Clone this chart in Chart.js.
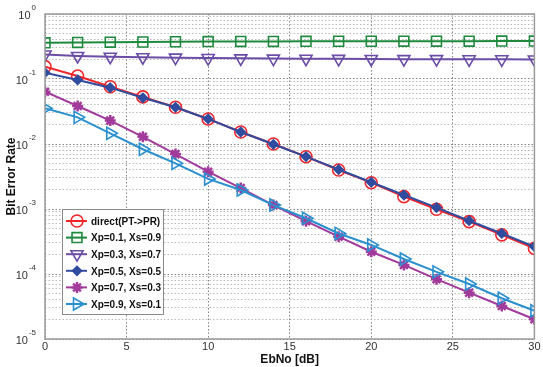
<!DOCTYPE html>
<html>
<head>
<meta charset="utf-8">
<script src="https://cdn.jsdelivr.net/npm/chart.js@4.4.1/dist/chart.umd.min.js"></script>
<style>
  html, body { margin: 0; padding: 0; background: #fff; }
  #wrap { width: 543px; height: 367px; }
</style>
</head>
<body>
<div id="wrap"><canvas id="ber"></canvas></div>
<script>
const ebno = [0, 2, 4, 6, 8, 10, 12, 14, 16, 18, 20, 22, 24, 26, 28, 30];
const xTicks = [0, 5, 10, 15, 20, 25, 30];
const yExponents = [0, -1, -2, -3, -4, -5];

const direct = [0.155, 0.111, 0.076, 0.053, 0.0367, 0.0243, 0.0153, 0.0100, 0.00638, 0.00398, 0.00254, 0.00155, 0.00099, 0.00064, 0.00040, 0.000248];
const xp01 = [0.36, 0.365, 0.368, 0.371, 0.374, 0.376, 0.378, 0.379, 0.380, 0.381, 0.381, 0.382, 0.382, 0.382, 0.383, 0.383];
const xp03 = [0.238, 0.226, 0.220, 0.216, 0.213, 0.210, 0.208, 0.206, 0.205, 0.204, 0.203, 0.202, 0.202, 0.201, 0.201, 0.200];
const xp05 = [0.125, 0.0966, 0.0736, 0.0514, 0.0367, 0.0243, 0.0153, 0.0099, 0.00640, 0.00405, 0.00258, 0.00164, 0.00105, 0.00066, 0.00042, 0.000263];
const xp07 = [0.0638, 0.0384, 0.0229, 0.0129, 0.0070, 0.00375, 0.0021, 0.00115, 0.00065, 0.000375, 0.00022, 0.000138, 0.0000832, 0.0000516, 0.0000322, 0.0000201];
const xp09 = [0.0354, 0.0257, 0.0146, 0.0083, 0.00505, 0.0029, 0.00196, 0.00115, 0.00072, 0.00042, 0.00028, 0.00017, 0.000108, 0.0000701, 0.0000423, 0.0000272];

const seriesNames = ['direct(PT->PR)', 'Xp=0.1, Xs=0.9', 'Xp=0.3, Xs=0.7', 'Xp=0.5, Xs=0.5', 'Xp=0.7, Xs=0.3', 'Xp=0.9, Xs=0.1'];
const seriesData = [direct, xp01, xp03, xp05, xp07, xp09];
const seriesColors = ['#f0262b', '#1f8a3e', '#6b4ca6', '#2f4c9e', '#a23a9c', '#2a90cf'];
const markers = [
  { style: 'circle', radius: 6, rotation: 0, fill: false },
  { style: 'rect', radius: 7, rotation: 0, fill: false },
  { style: 'triangle', radius: 7, rotation: 180, fill: false },
  { style: 'rectRot', radius: 4.5, rotation: 0, fill: true },
  { style: 'star', radius: 5.5, rotation: 0, fill: false },
  { style: 'triangle', radius: 7, rotation: 90, fill: false }
];

const datasets = seriesData.map((vals, i) => ({
  label: seriesNames[i],
  data: vals.map((v, k) => ({ x: ebno[k], y: v })),
  borderColor: seriesColors[i],
  backgroundColor: markers[i].fill ? seriesColors[i] : 'rgba(0,0,0,0)',
  borderWidth: 2,
  pointStyle: markers[i].style,
  pointRadius: markers[i].radius,
  pointRotation: markers[i].rotation,
  pointBorderWidth: markers[i].style === 'star' ? 2.5 : 1.6,
  pointBackgroundColor: markers[i].fill ? seriesColors[i] : 'rgba(0,0,0,0)',
  order: -i
}));

const minorTicks = [];
for (let e = -5; e <= 0; e++) {
  for (let m = 1; m <= 9; m++) {
    const v = m * Math.pow(10, e);
    if (v <= 1.0000001) minorTicks.push({ value: v });
  }
}

const isDecade = v => Math.abs(Math.log10(v) - Math.round(Math.log10(v))) < 1e-6;

const decorPlugin = {
  id: 'decor',
  afterDraw(chart) {
    const ctx = chart.ctx;
    const area = chart.chartArea;
    const xs = chart.scales.x;
    const ys = chart.scales.y;
    ctx.save();

    // frame
    ctx.strokeStyle = '#9a9a9a';
    ctx.lineWidth = 1.5;
    ctx.strokeRect(area.left, area.top, area.right - area.left, area.bottom - area.top);

    // x tick labels
    ctx.fillStyle = '#333';
    ctx.font = '11px Arial, "Liberation Sans", sans-serif';
    ctx.textAlign = 'center';
    ctx.textBaseline = 'middle';
    xTicks.forEach(t => ctx.fillText(String(t), xs.getPixelForValue(t), area.bottom + 8));

    // y tick labels 10^n
    yExponents.forEach(e => {
      const y = ys.getPixelForValue(Math.pow(10, e));
      const exp = String(e);
      ctx.font = '8px Arial, "Liberation Sans", sans-serif';
      const ew = ctx.measureText(exp).width;
      ctx.textAlign = 'left';
      ctx.fillText(exp, area.left - 9 - ew, y - 6);
      ctx.font = '11px Arial, "Liberation Sans", sans-serif';
      ctx.textAlign = 'right';
      ctx.fillText('10', area.left - 10 - ew, y + 2);
    });

    // axis titles
    ctx.fillStyle = '#111';
    ctx.font = 'bold 12px Arial, "Liberation Sans", sans-serif';
    ctx.textAlign = 'center';
    ctx.fillText('EbNo [dB]', (area.left + area.right) / 2, area.bottom + 21);
    ctx.save();
    ctx.translate(12, (area.top + area.bottom) / 2);
    ctx.rotate(-Math.PI / 2);
    ctx.fillText('Bit Error Rate', 0, 0);
    ctx.restore();

    // legend box
    const lx = 62, ly = 209, lw = 101, lh = 105;
    ctx.fillStyle = '#fff';
    ctx.fillRect(lx, ly, lw, lh);
    ctx.strokeStyle = '#8a8a8a';
    ctx.lineWidth = 1;
    ctx.strokeRect(lx + 0.5, ly + 0.5, lw, lh);
    ctx.font = 'bold 10px Arial, "Liberation Sans", sans-serif';
    ctx.textAlign = 'left';
    seriesNames.forEach((name, i) => {
      const y = ly + 12 + i * 16.6;
      ctx.strokeStyle = seriesColors[i];
      ctx.lineWidth = 2;
      ctx.beginPath();
      ctx.moveTo(lx + 4, y);
      ctx.lineTo(lx + 25, y);
      ctx.stroke();
      ctx.fillStyle = markers[i].fill ? seriesColors[i] : 'rgba(0,0,0,0)';
      ctx.lineWidth = markers[i].style === 'star' ? 2.5 : 1.6;
      Chart.helpers.drawPoint(ctx, {
        pointStyle: markers[i].style,
        radius: markers[i].radius,
        rotation: markers[i].rotation,
        borderWidth: ctx.lineWidth
      }, lx + 15, y);
      ctx.fillStyle = '#111';
      ctx.fillText(name, lx + 29, y + 1);
    });

    ctx.restore();
  }
};

new Chart(document.getElementById('ber').getContext('2d'), {
  type: 'line',
  data: { datasets: datasets },
  options: {
    responsive: true,
    maintainAspectRatio: false,
    animation: false,
    layout: { padding: { top: 14, right: 8, left: 0, bottom: 0 } },
    plugins: { legend: { display: false }, tooltip: { enabled: false } },
    scales: {
      x: {
        type: 'linear',
        min: 0,
        max: 30,
        ticks: { stepSize: 5, display: false },
        grid: { color: '#666', lineWidth: 0.8, drawTicks: false },
        border: { display: false, dash: [1.5, 2] },
        afterFit: s => { s.height = 28; }
      },
      y: {
        type: 'logarithmic',
        min: 1e-5,
        max: 1,
        afterBuildTicks: s => { s.ticks = minorTicks.slice(); },
        ticks: { display: false },
        grid: {
          color: c => (c.tick && isDecade(c.tick.value)) ? '#666' : '#aaa',
          lineWidth: 0.8,
          drawTicks: false
        },
        border: { display: false, dash: [1.5, 2] },
        afterFit: s => { s.width = 45; }
      }
    }
  },
  plugins: [decorPlugin]
});
</script>
</body>
</html>
